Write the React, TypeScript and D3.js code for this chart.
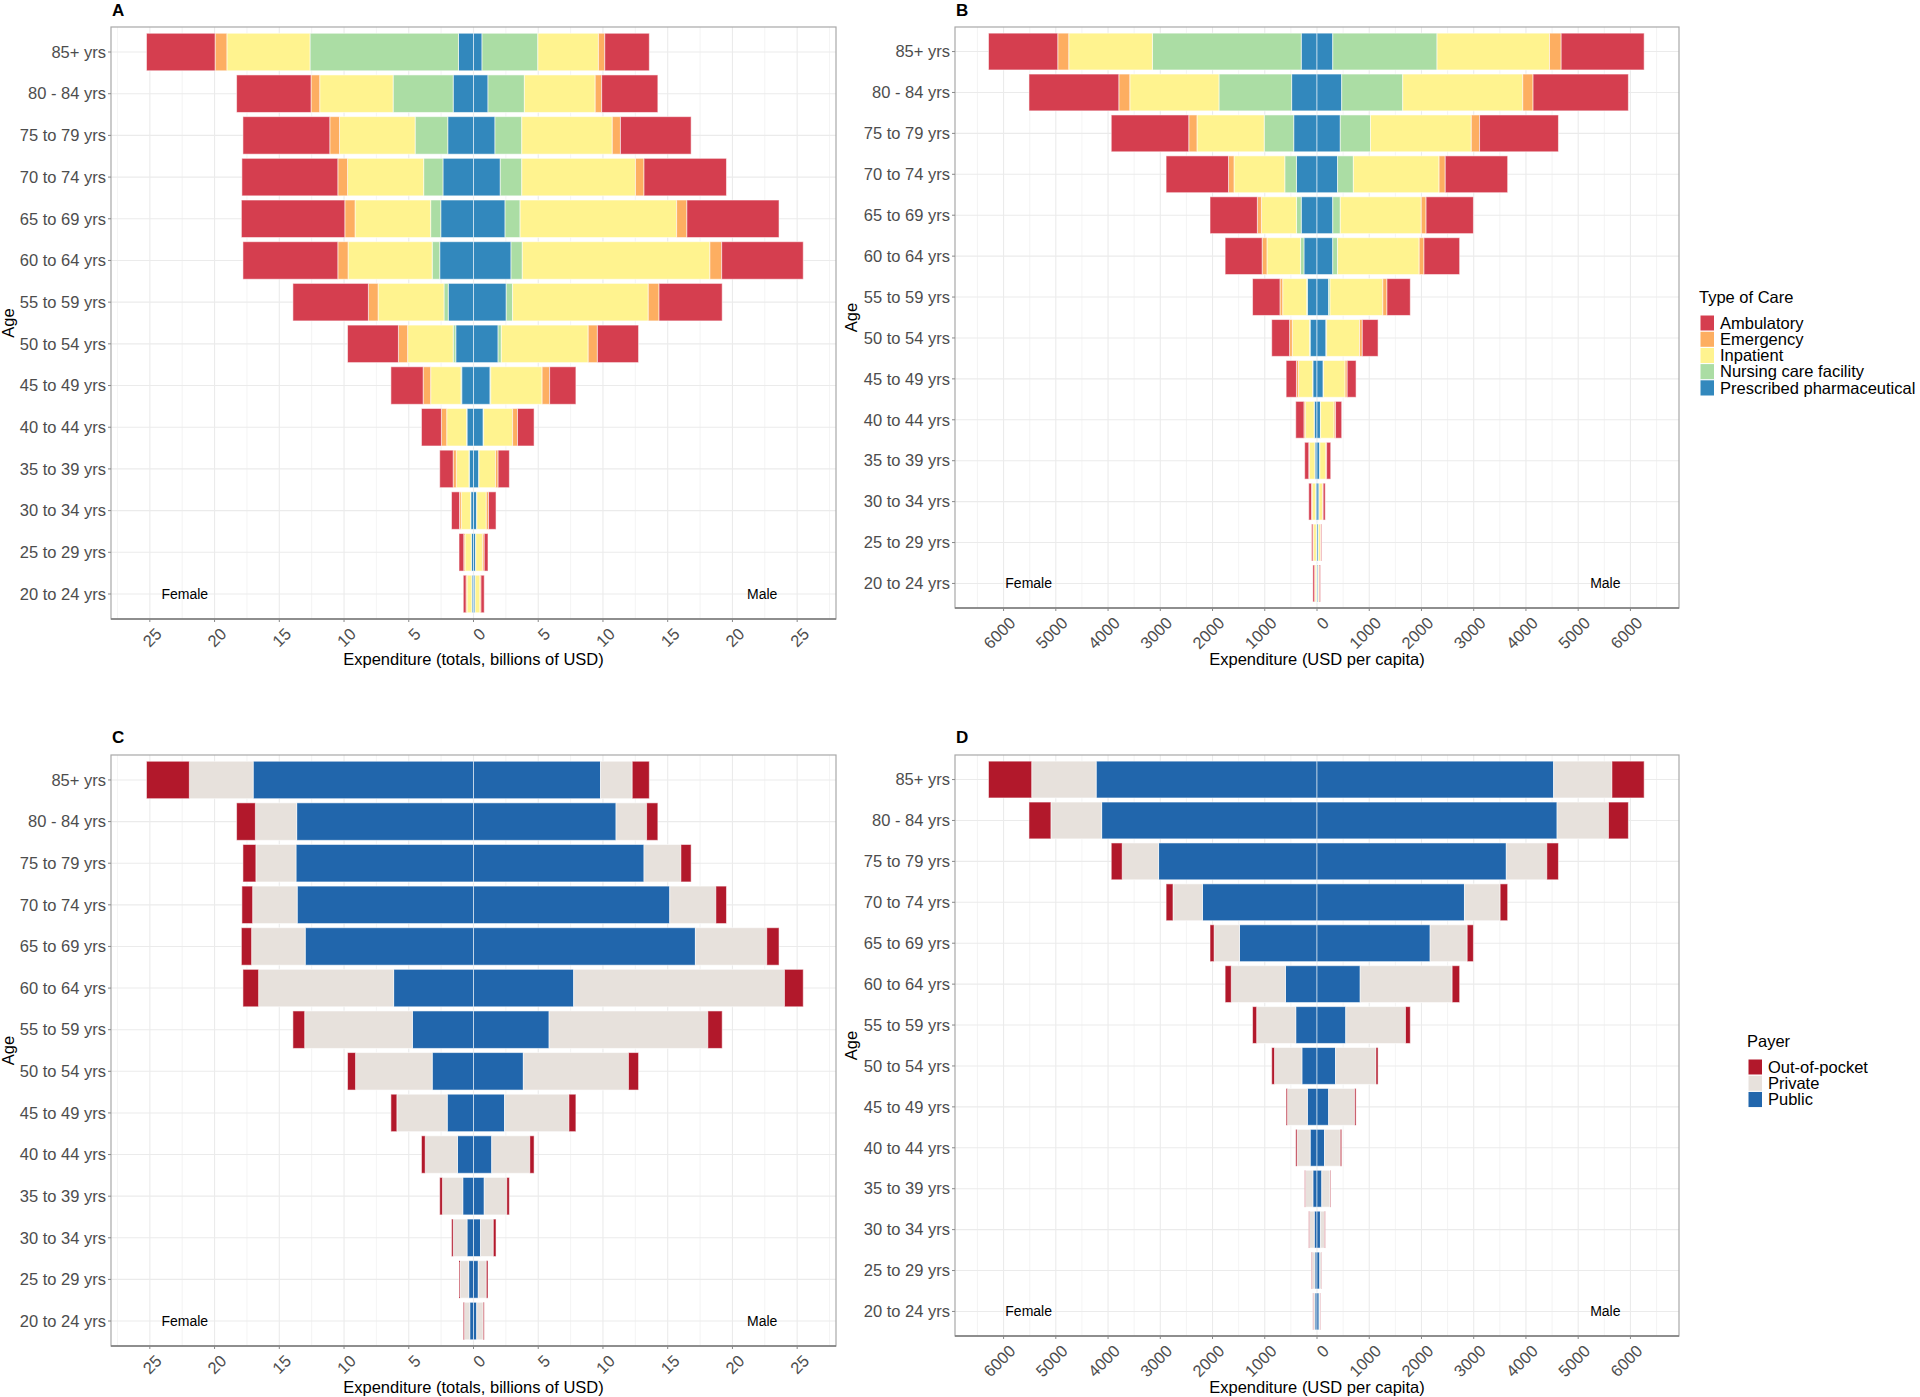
import React from "react";
import * as d3 from "d3";

const ages = ["85+ yrs","80 - 84 yrs","75 to 79 yrs","70 to 74 yrs","65 to 69 yrs","60 to 64 yrs","55 to 59 yrs","50 to 54 yrs","45 to 49 yrs","40 to 44 yrs","35 to 39 yrs","30 to 34 yrs","25 to 29 yrs","20 to 24 yrs"];

const careTypes = ["Prescribed pharmaceutical","Nursing care facility","Inpatient","Emergency","Ambulatory"];
const careLegend = ["Ambulatory","Emergency","Inpatient","Nursing care facility","Prescribed pharmaceutical"];
const careColors: Record<string,string> = {
  "Ambulatory": "#D53E4F",
  "Emergency": "#FDAE61",
  "Inpatient": "#FFF38F",
  "Nursing care facility": "#ABDDA4",
  "Prescribed pharmaceutical": "#3288BD",
};
const payers = ["Public","Private","Out-of-pocket"];
const payerLegend = ["Out-of-pocket","Private","Public"];
const payerColors: Record<string,string> = {
  "Out-of-pocket": "#B2182B",
  "Private": "#E7E1DC",
  "Public": "#2166AC",
};

// Panel A: totals, billions USD
const aFemPharm = [1.16,1.57,1.99,2.36,2.53,2.61,1.95,1.37,0.91,0.50,0.33,0.21,0.17,0.12];
const aFemNursing = [11.47,4.64,2.52,1.49,0.78,0.58,0.33,0.20,0.06,0.04,0.02,0.02,0.01,0.01];
const aFemInpatient = [6.42,5.67,5.84,5.88,5.84,6.50,5.09,3.52,2.34,1.53,0.98,0.72,0.48,0.37];
const aFemEmergency = [0.91,0.67,0.75,0.75,0.79,0.79,0.75,0.71,0.58,0.41,0.24,0.13,0.09,0.08];
const aFemAmbulatory = [5.30,5.75,6.71,7.41,7.99,7.33,5.83,3.93,2.49,1.54,1.04,0.62,0.37,0.21];
const aMalePharm = [0.66,1.12,1.66,2.07,2.44,2.90,2.53,1.90,1.28,0.75,0.41,0.25,0.17,0.12];
const aMaleNursing = [4.31,2.81,2.07,1.66,1.16,0.87,0.49,0.25,0.05,0.03,0.01,0.01,0.01,0.01];
const aMaleInpatient = [4.68,5.47,6.99,8.78,12.09,14.49,10.48,6.71,3.97,2.24,1.28,0.73,0.52,0.37];
const aMaleEmergency = [0.49,0.50,0.63,0.66,0.79,0.91,0.83,0.71,0.58,0.38,0.20,0.17,0.13,0.08];
const aMaleAmbulatory = [3.44,4.34,5.46,6.37,7.12,6.30,4.88,3.18,2.03,1.28,0.87,0.58,0.29,0.25];

// Panel B: USD per capita
const bFemPharm = [302,486,446,394,302,250,184,131,79,53,39,26,13,13];
const bFemNursing = [2849,1391,565,223,92,65,13,13,6,3,2,1,1,1];
const bFemInpatient = [1602,1707,1287,972,670,643,460,329,270,167,103,65,52,25];
const bFemEmergency = [210,210,157,105,78,92,52,52,39,27,14,13,13,7];
const bFemAmbulatory = [1326,1720,1484,1195,906,709,525,342,197,157,78,53,26,33];
const bMalePharm = [302,473,446,394,302,302,223,171,118,66,53,39,26,20];
const bMaleNursing = [1996,1168,578,302,144,92,27,13,6,3,2,1,1,1];
const bMaleInpatient = [2153,2298,1930,1641,1550,1562,1010,630,414,259,116,65,39,18];
const bMaleEmergency = [223,197,158,118,92,92,79,53,40,27,13,13,13,7];
const bMaleAmbulatory = [1589,1825,1510,1195,906,683,447,302,170,118,79,40,13,20];

// Panel C: totals by payer
const cFemPublic = [17.02,13.66,13.71,13.62,13.00,6.17,4.72,3.19,2.03,1.24,0.83,0.50,0.37,0.29];
const cFemPrivate = [4.93,3.19,3.10,3.44,4.14,10.43,8.32,5.92,3.89,2.49,1.57,1.07,0.67,0.41];
const cFemOOP = [3.31,1.45,1.00,0.83,0.79,1.21,0.91,0.62,0.46,0.29,0.21,0.13,0.08,0.09];
const cMalePublic = [9.81,11.01,13.17,15.16,17.14,7.74,5.84,3.85,2.40,1.41,0.83,0.54,0.37,0.25];
const cMalePrivate = [2.45,2.36,2.85,3.56,5.51,16.28,12.26,8.12,4.97,2.94,1.74,0.99,0.62,0.50];
const cMaleOOP = [1.32,0.87,0.79,0.82,0.95,1.45,1.11,0.78,0.54,0.33,0.20,0.21,0.13,0.08];

// Panel D: per capita by payer
const dFemPublic = [4228,4123,3033,2193,1484,604,407,289,184,131,79,53,39,39];
const dFemPrivate = [1234,971,696,564,486,1037,748,525,381,250,144,91,53,31];
const dFemOOP = [827,420,210,132,78,118,79,53,26,26,13,14,13,9];
const dMalePublic = [4530,4596,3624,2823,2166,827,551,355,223,144,92,66,53,39];
const dMalePrivate = [1116,984,775,683,709,1760,1143,774,499,302,158,79,32,20];
const dMaleOOP = [617,381,223,144,119,144,92,40,26,27,13,13,7,7];

const totalTicks = [-25,-20,-15,-10,-5,0,5,10,15,20,25];
const capitaTicks = [-6000,-5000,-4000,-3000,-2000,-1000,0,1000,2000,3000,4000,5000,6000];

const FONT = "'Liberation Sans', Arial, Helvetica, sans-serif";

function table(keys: string[], cols: number[][]) {
  return ages.map((age, i) => {
    const r: any = { age };
    keys.forEach((k, j) => { r[k] = cols[j][i]; });
    return r;
  });
}

type PanelProps = {
  x0: number; x1: number; y0: number; y1: number;
  domainMax: number; ticks: number[]; minorStep: number;
  keys: string[]; colors: Record<string,string>;
  female: any[]; male: any[];
  letter: string; letterY: number; titleY: number; xTitle: string;
  ageX: number; sexLabelX: number;
};

function Panel(p: PanelProps) {
  const xs = d3.scaleLinear().domain([-p.domainMax, p.domainMax]).range([p.x0, p.x1]);
  const step = (p.y1 - p.y0) / (ages.length - 1 + 1.2);
  const yc = (i: number) => p.y0 + (i + 0.6) * step;
  const bh = 0.9 * step;
  const stack = d3.stack<any>().keys(p.keys);
  const fs = stack(p.female);
  const ms = stack(p.male);
  const minor: number[] = [];
  for (let v = -Math.floor(p.domainMax / p.minorStep) * p.minorStep; v <= p.domainMax; v += p.minorStep) {
    if (!p.ticks.some(t => Math.abs(t - v) < 1e-9)) minor.push(v);
  }
  const cx = (p.x0 + p.x1) / 2;
  const cy = (p.y0 + p.y1) / 2;
  const lastY = yc(ages.length - 1);
  return (
    <g fontFamily={FONT}>
      {/* grid */}
      {minor.map(v => <line key={"mn" + v} x1={xs(v)} x2={xs(v)} y1={p.y0} y2={p.y1} stroke="#EDEDED" strokeWidth={0.6} />)}
      {p.ticks.map(v => <line key={"mj" + v} x1={xs(v)} x2={xs(v)} y1={p.y0} y2={p.y1} stroke="#EBEBEB" strokeWidth={1.1} />)}
      {ages.map((a, i) => <line key={"hg" + i} x1={p.x0} x2={p.x1} y1={yc(i)} y2={yc(i)} stroke="#EBEBEB" strokeWidth={1.1} />)}
      {/* bars */}
      {fs.map(layer => layer.map((d, i) => (
        <rect key={"f" + layer.key + i} x={xs(-d[1])} y={yc(i) - bh / 2} width={Math.max(0, xs(-d[0]) - xs(-d[1]))} height={bh}
          fill={p.colors[layer.key]} stroke="#FFFFFF" strokeOpacity={0.55} strokeWidth={1} />
      )))}
      {ms.map(layer => layer.map((d, i) => (
        <rect key={"m" + layer.key + i} x={xs(d[0])} y={yc(i) - bh / 2} width={Math.max(0, xs(d[1]) - xs(d[0]))} height={bh}
          fill={p.colors[layer.key]} stroke="#FFFFFF" strokeOpacity={0.55} strokeWidth={1} />
      )))}
      {/* border */}
      <rect x={p.x0} y={p.y0} width={p.x1 - p.x0} height={p.y1 - p.y0} fill="none" stroke="#A8A8A8" strokeWidth={1.2} />
      <line x1={p.x0} x2={p.x1} y1={p.y1} y2={p.y1} stroke="#7A7A7A" strokeWidth={1.4} />
      {/* y axis */}
      {ages.map((a, i) => (
        <g key={"yl" + i}>
          <line x1={p.x0 - 3} x2={p.x0} y1={yc(i)} y2={yc(i)} stroke="#888" strokeWidth={1} />
          <text x={p.x0 - 5} y={yc(i)} dy="0.35em" textAnchor="end" fontSize={16.5} fill="#4D4D4D">{a}</text>
        </g>
      ))}
      {/* x axis */}
      {p.ticks.map(v => (
        <g key={"xt" + v}>
          <line x1={xs(v)} x2={xs(v)} y1={p.y1} y2={p.y1 + 3} stroke="#888" strokeWidth={1} />
          <text transform={`translate(${xs(v) + 13},${p.y1 + 16}) rotate(-45)`} textAnchor="end" fontSize={16.5} fill="#4D4D4D">{String(Math.abs(v))}</text>
        </g>
      ))}
      <text x={cx} y={p.titleY} textAnchor="middle" fontSize={16.5} fill="#000">{p.xTitle}</text>
      <text transform={`translate(${p.ageX},${cy}) rotate(-90)`} textAnchor="middle" fontSize={16.5} fill="#000">Age</text>
      <text x={p.x0 + 1} y={p.letterY} fontSize={17} fontWeight="bold" fill="#000">{p.letter}</text>
      <text x={xs(-p.sexLabelX)} y={lastY} dy="0.35em" textAnchor="middle" fontSize={14} fill="#000">Female</text>
      <text x={xs(p.sexLabelX)} y={lastY} dy="0.35em" textAnchor="middle" fontSize={14} fill="#000">Male</text>
    </g>
  );
}

function Legend({ x, y, title, items, colors }: { x: number; y: number; title: string; items: string[]; colors: Record<string,string> }) {
  return (
    <g fontFamily={FONT}>
      <text x={x} y={y} fontSize={16.5} fill="#000">{title}</text>
      {items.map((it, i) => (
        <g key={it}>
          <rect x={x + 1} y={y + 12 + i * 16.2} width={14.5} height={16.2} fill={colors[it]} stroke="#fff" strokeWidth={1} />
          <text x={x + 21} y={y + 12 + i * 16.2 + 8.1} dy="0.35em" fontSize={16.5} fill="#000">{it}</text>
        </g>
      ))}
    </g>
  );
}

export default function App() {
  const careFemA = table(careTypes, [aFemPharm, aFemNursing, aFemInpatient, aFemEmergency, aFemAmbulatory]);
  const careMaleA = table(careTypes, [aMalePharm, aMaleNursing, aMaleInpatient, aMaleEmergency, aMaleAmbulatory]);
  const careFemB = table(careTypes, [bFemPharm, bFemNursing, bFemInpatient, bFemEmergency, bFemAmbulatory]);
  const careMaleB = table(careTypes, [bMalePharm, bMaleNursing, bMaleInpatient, bMaleEmergency, bMaleAmbulatory]);
  const payFemC = table(payers, [cFemPublic, cFemPrivate, cFemOOP]);
  const payMaleC = table(payers, [cMalePublic, cMalePrivate, cMaleOOP]);
  const payFemD = table(payers, [dFemPublic, dFemPrivate, dFemOOP]);
  const payMaleD = table(payers, [dMalePublic, dMalePrivate, dMaleOOP]);
  return (
    <svg width={1920} height={1397} style={{ position: "absolute", left: 0, top: 0, background: "#fff" }}>
      <rect x={0} y={0} width={1920} height={1397} fill="#fff" />
      <Panel x0={111} x1={836} y0={27} y1={619} domainMax={28} ticks={totalTicks} minorStep={2.5}
        keys={careTypes} colors={careColors} female={careFemA} male={careMaleA}
        letter="A" letterY={16} titleY={665} xTitle="Expenditure (totals, billions of USD)" ageX={14} sexLabelX={22.3} />
      <Panel x0={955} x1={1679} y0={27} y1={608} domainMax={6930} ticks={capitaTicks} minorStep={500}
        keys={careTypes} colors={careColors} female={careFemB} male={careMaleB}
        letter="B" letterY={16} titleY={665} xTitle="Expenditure (USD per capita)" ageX={857} sexLabelX={5520} />
      <Panel x0={111} x1={836} y0={755} y1={1346} domainMax={28} ticks={totalTicks} minorStep={2.5}
        keys={payers} colors={payerColors} female={payFemC} male={payMaleC}
        letter="C" letterY={743} titleY={1393} xTitle="Expenditure (totals, billions of USD)" ageX={14} sexLabelX={22.3} />
      <Panel x0={955} x1={1679} y0={755} y1={1336} domainMax={6930} ticks={capitaTicks} minorStep={500}
        keys={payers} colors={payerColors} female={payFemD} male={payMaleD}
        letter="D" letterY={743} titleY={1393} xTitle="Expenditure (USD per capita)" ageX={857} sexLabelX={5520} />
      <Legend x={1699} y={303} title="Type of Care" items={careLegend} colors={careColors} />
      <Legend x={1747} y={1047} title="Payer" items={payerLegend} colors={payerColors} />
    </svg>
  );
}
